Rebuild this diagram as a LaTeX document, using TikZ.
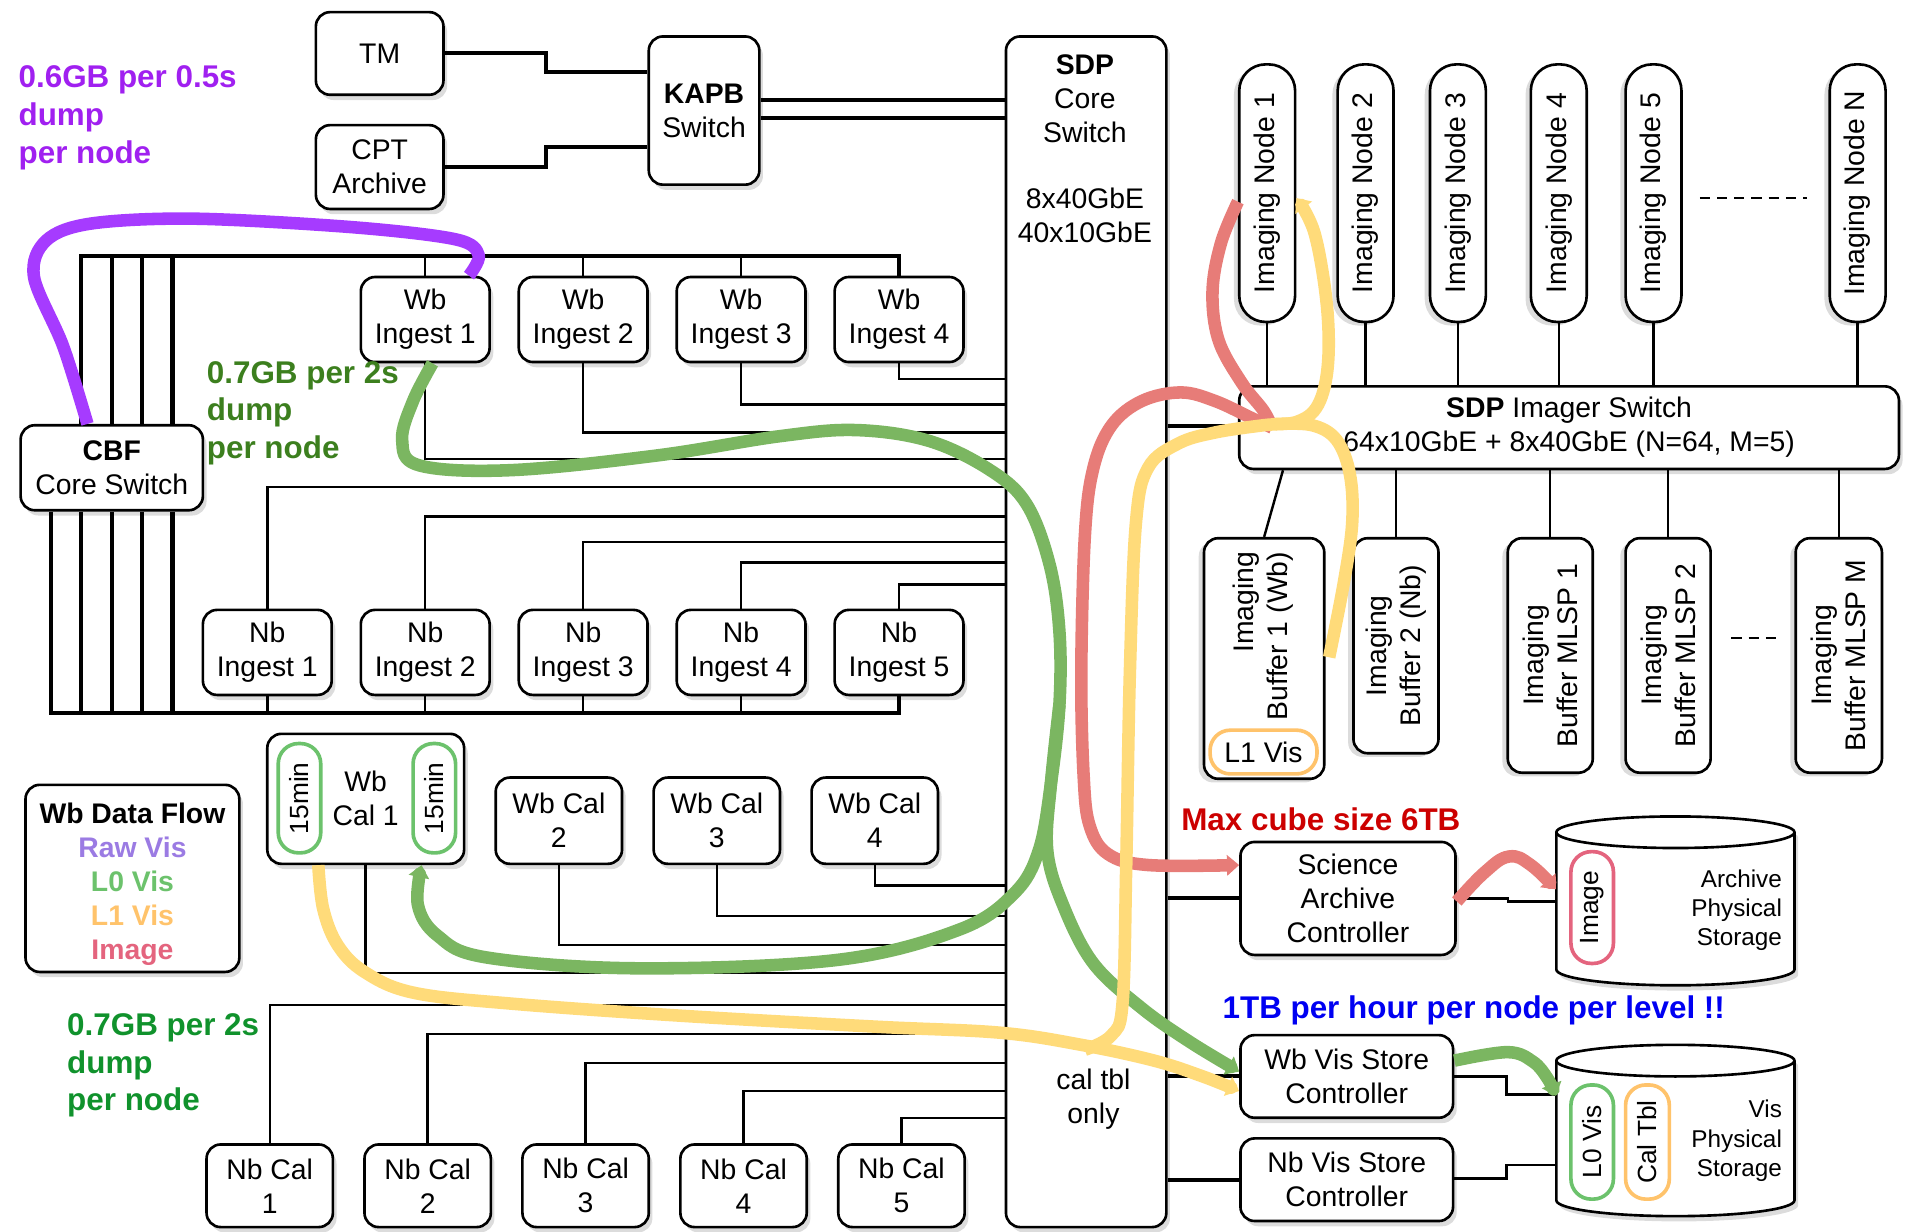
\documentclass[tikz,border=0pt]{standalone}
\usepackage{fontspec}
\setmainfont{Liberation Sans}
\usetikzlibrary{shadows,arrows.meta,calc}
\definecolor{purp}{HTML}{A63BFF}
\definecolor{grn}{HTML}{7BB661}
\definecolor{redf}{HTML}{E77C78}
\definecolor{yel}{HTML}{FFDB7A}
\definecolor{ptxt}{HTML}{A020F0}
\definecolor{gtxta}{HTML}{3C7F1E}
\definecolor{gtxtb}{HTML}{10922C}
\definecolor{rtxt}{HTML}{CC0000}
\definecolor{btxt}{HTML}{0000F2}
\definecolor{lraw}{HTML}{9B7BE3}
\definecolor{lzero}{HTML}{6CC26C}
\definecolor{lone}{HTML}{FFC36B}
\definecolor{limg}{HTML}{E4647E}
\newcommand\fsn{\fontsize{14}{16.8}\selectfont}
\newcommand\fsb{\fontsize{15.5}{18.6}\selectfont\bfseries}
\newcommand\fss{\fontsize{12}{14.4}\selectfont}
\newcommand\fst{\fontsize{13}{15.6}\selectfont}
\newcommand\drawcyl[5]{%
  \pgfmathsetmacro\cxa{(#1+#2)/2}\pgfmathsetmacro\rxa{(#2-#1)/2}%
  \path[draw, fill=white, line width=1.3pt, shd]
   (#1,#3) -- (#1,#4) .. controls (#1,{#4+0.5523*#5}) and ({\cxa-0.5523*\rxa},{#4+#5}) .. (\cxa,{#4+#5})
   .. controls ({\cxa+0.5523*\rxa},{#4+#5}) and (#2,{#4+0.5523*#5}) .. (#2,#4) -- (#2,#3)
   .. controls (#2,{#3-0.5523*#5}) and ({\cxa+0.5523*\rxa},{#3-#5}) .. (\cxa,{#3-#5})
   .. controls ({\cxa-0.5523*\rxa},{#3-#5}) and (#1,{#3-0.5523*#5}) .. (#1,#3) -- cycle;
  \draw[line width=1.3pt] (#1,#3) .. controls (#1,{#3+0.5523*#5}) and ({\cxa-0.5523*\rxa},{#3+#5}) .. (\cxa,{#3+#5})
   .. controls ({\cxa+0.5523*\rxa},{#3+#5}) and (#2,{#3+0.5523*#5}) .. (#2,#3);
}
\begin{document}
\begin{tikzpicture}[x=0.6pt,y=-0.6pt,
  wh/.style 2 args={minimum width=#1*0.6pt, minimum height=#2*0.6pt},
  base/.style={draw, line width=1.3pt, fill=white, align=center, inner sep=0pt, font=\fsn},
  shd/.style={drop shadow={shadow xshift=1.8pt,shadow yshift=-2.6pt,opacity=0.28}},
  rshd/.style={drop shadow={shadow xshift=-2.6pt,shadow yshift=-1.8pt,opacity=0.28}},
  box/.style={base, rounded corners=7pt, shd},
  rbox/.style={base, rounded corners=7pt, rotate=90, rshd},
  pill/.style={base, rounded corners=13pt, rotate=90, rshd},
  tag/.style={draw=#1, line width=1.8pt, rounded corners=10pt, fill=white, inner sep=0pt, font=\fst, align=center},
  txt/.style={inner sep=0pt, align=center, font=\fsn},
  thk/.style={line width=2pt},
  thn/.style={line width=1.2pt},
  flow/.style={line width=6.2pt, line join=round},
  arr/.style={-{Triangle[length=6pt,width=10pt]}},
]
\useasboundingbox (0,0) rectangle (1568,1014);

% ---------- boxes ----------
\node[box, wh={105}{68}] (tm) at (312.5,44) {TM};
\node[box, wh={105}{69}] (cpt) at (312.5,137.5) {CPT\\Archive};
\node[box, wh={91}{122}] (kapb) at (579.5,91) {\textbf{KAPB}\\Switch};
\node[box, wh={132}{980}] (sdp) at (894,520) {};
\node[txt] (sdpa) at (893,81) {\textbf{SDP}\\Core\\Switch};
\node[txt] (sdpb) at (893,177) {8x40GbE\\40x10GbE};
\node[txt] (sdpc) at (900,905) {cal tbl\\only};

\foreach \i/\x in {1/350,2/480,3/610,4/740}
  \node[box, wh={106}{70}] (wbi\i) at (\x,263) {Wb\\Ingest \i};
\node[box, wh={150}{70}] (cbf) at (92,385) {\textbf{CBF}\\Core Switch};
\foreach \i/\x in {1/220,2/350,3/480,4/610,5/740}
  \node[box, wh={106}{70}] (nbi\i) at (\x,537) {Nb\\Ingest \i};

\node[box, wh={162}{107}] (wbc1) at (301,657.5) {Wb\\Cal 1};
\node[tag=lzero, rotate=90, wh={90}{35}] (mina) at (246.5,657) {15min};
\node[tag=lzero, rotate=90, wh={90}{35}] (minb) at (357.5,657) {15min};
\foreach \i/\x in {2/460,3/590,4/720}
  \node[box, wh={104}{71}] (wbc\i) at (\x,675.5) {Wb Cal\\\i};
\foreach \i/\x in {1/222,2/352,3/482,4/612,5/742}
  \node[box, wh={104}{68}] (nbc\i) at (\x,976) {Nb Cal\\\i};

\node[box, wh={176}{154}] (legend) at (109,723) {};
\node[txt, font=\fsn\bfseries] (legendt) at (109,728)
  {Wb Data Flow\\\textcolor{lraw}{Raw Vis}\\\textcolor{lzero}{L0 Vis}\\\textcolor{lone}{L1 Vis}\\\textcolor{limg}{Image}};

\foreach \i/\x in {1/1043,2/1124,3/1200,4/1283,5/1361,N/1529}
  \node[pill, wh={212}{46}] (imn\i) at (\x,159) {Imaging Node \i};
\node[box, wh={543}{68}] (imsw) at (1291.5,352) {\textbf{SDP} Imager Switch\\64x10GbE + 8x40GbE (N=64, M=5)};

\node[rbox, wh={198}{99}] (buf1) at (1040.5,542) {};
\node[txt, rotate=90, align=right] (buf1t) at (1040,523.5) {Imaging\\Buffer 1 (Wb)};
\node[tag=lone, wh={88}{36}, font=\fsn] (l1vis) at (1040,619) {L1 Vis};
\node[rbox, wh={177}{70}] (buf2) at (1149,531.5) {Imaging\\Buffer 2 (Nb)};
\node[rbox, wh={193}{70}] (mlsp1) at (1276,539.5) {Imaging\\Buffer MLSP 1};
\node[rbox, wh={193}{70}] (mlsp2) at (1373,539.5) {Imaging\\Buffer MLSP 2};
\node[rbox, wh={193}{71}] (mlspm) at (1513.5,539.5) {Imaging\\Buffer MLSP M};

\node[box, wh={177}{93}] (sac) at (1109.5,739.5) {Science\\Archive\\Controller};
\node[box, wh={175}{68}] (wbvs) at (1108.5,886) {Wb Vis Store\\Controller};
\node[box, wh={175}{68}] (nbvs) at (1108.5,971) {Nb Vis Store\\Controller};

\drawcyl{1281}{1477}{685}{798}{13}
\drawcyl{1281}{1477}{873}{988}{13}
\node[inner sep=0pt, wh={196}{126}] (arch) at (1379,742) {};
\node[inner sep=0pt, wh={196}{128}] (vis) at (1379,930) {};
\node[tag=limg, rotate=90, wh={92}{35}] (imgtag) at (1310.5,747) {Image};
\node[tag=lzero, rotate=90, wh={94}{35}] (l0tag) at (1310.5,940) {L0 Vis};
\node[tag=lone, rotate=90, wh={94}{36}] (caltag) at (1356,940) {Cal Tbl};
\node[txt, anchor=east, align=right, font=\fss] (archt) at (1467,749) {Archive\\Physical\\Storage};
\node[txt, anchor=east, align=right, font=\fss] (vist) at (1467,939) {Vis\\Physical\\Storage};

% ---------- labels ----------
\node[txt, anchor=west, align=left, font=\fsb, text=ptxt] (lab1) at (15,97) {0.6GB per 0.5s\\dump\\per node};
\node[txt, anchor=west, align=left, font=\fsb, text=gtxta] (lab2) at (170,340) {0.7GB per 2s\\dump\\per node};
\node[txt, anchor=west, align=left, font=\fsb, text=gtxtb] (lab3) at (55,877) {0.7GB per 2s\\dump\\per node};
\node[txt, anchor=west, font=\fsb, text=rtxt] (lab4) at (972,674) {Max cube size 6TB};
\node[txt, anchor=west, font=\fsb, text=btxt] (lab5) at (1006,832) {1TB per hour per node per level !!};

% ---------- connectors ----------
\draw[thk] (tm.east) -- ++(83,0) |- (kapb.west |- 0,59);
\draw[thk] (cpt.east) -- ++(83,0) |- (kapb.west |- 0,121);
\draw[thk] (kapb.east |- 0,82) -- (sdp.west |- 0,82);
\draw[thk] (kapb.east |- 0,97) -- (sdp.west |- 0,97);

\draw[thk] (cbf.north -| 67,0) |- (wbi4.north |- 0,211) -- (wbi4.north);
\foreach \x in {92,117,142} \draw[thk] (cbf.north -| \x,0) -- (\x,211);
\foreach \i in {1,2,3} \draw[thn] (wbi\i.north) -- (wbi\i.north |- 0,211);
\draw[thk] (cbf.south -| 42,0) |- (nbi5.south |- 0,587) -- (nbi5.south);
\foreach \x in {67,92,117,142} \draw[thk] (cbf.south -| \x,0) -- (\x,587);
\foreach \i in {1,2,3,4} \draw[thn] (nbi\i.south) -- (nbi\i.south |- 0,587);

\foreach \i/\y in {1/378,2/356,3/333,4/312} \draw[thn] (wbi\i.south) |- (sdp.west |- 0,\y);
\foreach \i/\y in {1/401,2/425,3/446,4/463,5/481} \draw[thn] (nbi\i.north) |- (sdp.west |- 0,\y);
\foreach \i/\y in {1/801,2/778,3/754,4/729} \draw[thn] (wbc\i.south) |- (sdp.west |- 0,\y);
\foreach \i/\y in {1/827,2/851,3/875,4/898,5/920} \draw[thn] (nbc\i.north) |- (sdp.west |- 0,\y);

\draw[thk] (sdp.east |- 0,351) -- (imsw.west |- 0,351);
\draw[thk] (sdp.east |- sac.west) -- (sac.west);
\draw[thk] (sdp.east |- wbvs.west) -- (wbvs.west);
\draw[thk] (sdp.east |- nbvs.west) -- (nbvs.west);

\foreach \i in {1,2,3,4,5,N} \draw[thn] (imn\i.west) -- (imn\i.west |- imsw.north);
\draw[thn] (imsw.south -| 1056,0) -- (buf1.east);
\foreach \b in {buf2,mlsp1,mlsp2,mlspm} \draw[thn] (\b.east) -- (\b.east |- imsw.south);
\draw[thn, dash pattern=on 5pt off 3.5pt] ($(imn5.south)+(14,4)$) -- ($(imnN.north)+(-18,4)$);
\draw[thn, dash pattern=on 5pt off 3.5pt] ($(mlsp2.south)+(16,-14.5)$) -- ($(mlspm.north)+(-14,-14.5)$);

\draw[thn] (sac.east) -- ++(42,0) |- (arch.west);
\draw[thn] (wbvs.east) -- ++(43,0) |- (vis.west |- 0,901);
\draw[thn] (nbvs.east |- 0,970) -- ++(43,0) |- (vis.west |- 0,959);

% ---------- flows ----------
\draw[flow, purp] plot[smooth, tension=0.55] coordinates {(cbf.north -| 72,0) (52,285) (28,228) (38,198) (75,184) (160,180) (290,187) (375,197) (394,210) (wbi1.north -| 386,0)};

\draw[flow, grn, arr] plot[smooth, tension=0.6] coordinates {(wbi1.south -| 356,0) (340,330) (331,362) (345,383) (420,387) (540,375) (642,359) (705,354) (765,363) (815,387) (845,415) (864,465) (872,520) (872,580) (865,645) (855,700) (835,735) (790,765) (690,790) (525,797) (400,788) (360,770) (344,745) (wbc1.south -| 347,0)};
\draw[flow, grn, arr] plot[smooth, tension=0.6] coordinates {(872,580) (865,645) (862,700) (875,745) (900,793) (940,830) (980,858) (wbvs.west |- 0,882)};
\draw[flow, grn, arr] plot[smooth, tension=0.6] coordinates {(wbvs.east |- 0,873) (1241,866) (1262,874) (1274,888) (vis.west |- 0,902)};

\draw[flow, redf] plot[smooth, tension=0.6] coordinates {(imn1.north |- 0,166) (1005,200) (998,240) (1003,280) (1022,315) (1040,338) (1047,352)};
\draw[flow, redf, arr] plot[smooth, tension=0.6] coordinates {(1047,352) (1030,344) (1000,330) (972,323) (940,330) (915,350) (900,385) (893,440) (890,553) (892,640) (897,680) (912,703) (945,712) (sac.west |- 0,712)};
\draw[flow, redf, arr] plot[smooth, tension=0.7] coordinates {(sac.east |- 0,742) (1222,718) (1242,705) (1260,712) (arch.west |- 0,732)};

\draw[flow, yel, arr] plot[smooth, tension=0.6] coordinates {(wbc1.south -| 262,0) (266,748) (278,778) (300,800) (340,817) (420,826) (560,836) (720,845) (823,850) (890,860) (950,873) (990,886) (wbvs.west |- 0,898)};
\draw[flow, yel, arr] plot[smooth, tension=0.6] coordinates {(893,864) (915,852) (924,825) (927,711) (930,553) (935,430) (945,385) (970,365) (1000,356) (1040,350) (1068,347) (1085,333) (1093,300) (1092,250) (1082,192) (imn1.south |- 0,163)};
\draw[flow, yel] plot[smooth, tension=0.6] coordinates {(1050,349) (1080,350) (1100,362) (1111,390) (1113,430) (1106,480) (1094,541)};
\end{tikzpicture}
\end{document}
